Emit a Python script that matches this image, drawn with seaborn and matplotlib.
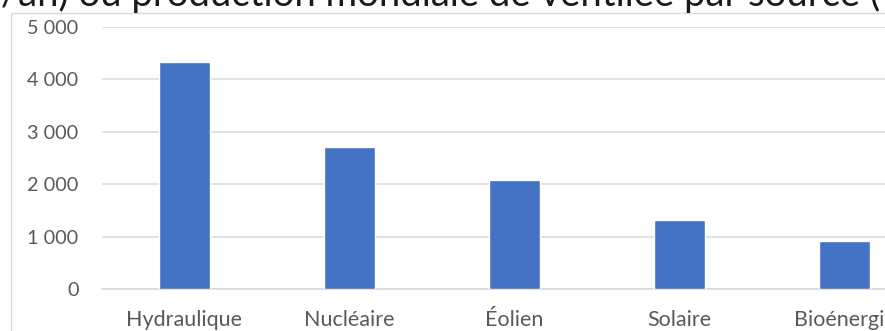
import matplotlib
matplotlib.use("Agg")
import matplotlib.pyplot as plt
from matplotlib.patches import Rectangle
from matplotlib.ticker import FuncFormatter, MultipleLocator
import seaborn as sns
import pandas as pd

# Production d'électricité mondiale par source (TWh)
sources = ["Hydraulique", "Nucléaire", "Éolien", "Solaire", "Bioénergie"]
production_twh = [4330, 2710, 2080, 1320, 920]
y_ticks = [0, 1000, 2000, 3000, 4000, 5000]

title = "(TWh/an) ou production mondiale de ventilée par source (TWh)"

df = pd.DataFrame({"source": sources, "twh": production_twh})

sns.set_theme(style="white")
plt.rcParams["font.family"] = ["Lato", "DejaVu Sans"]

W, H = 885, 331
fig = plt.figure(figsize=(W / 100, H / 100), dpi=100)
fig.patch.set_facecolor("white")

# Plot area; its right end runs past the edge of the canvas
left, right, top, bottom = 102, 927, 27, 289
ax = fig.add_axes([left / W, 1 - bottom / H, (right - left) / W, (bottom - top) / H])

sns.barplot(data=df, x="source", y="twh", color="#4472C4", saturation=1,
            width=0.315, ax=ax, zorder=3)

ax.set_xlim(-0.5, len(sources) - 0.5)
ax.set_ylim(y_ticks[0], y_ticks[-1])
ax.yaxis.set_major_locator(MultipleLocator(1000))
ax.yaxis.set_major_formatter(FuncFormatter(lambda v, p: f"{int(v):,}".replace(",", " ")))
ax.yaxis.grid(True, color="#D9D9D9", linewidth=1.1, zorder=0)
ax.set_axisbelow(True)

for side in ("top", "right", "left"):
    ax.spines[side].set_visible(False)
ax.spines["bottom"].set_color("#D9D9D9")
ax.spines["bottom"].set_linewidth(1.1)

ax.tick_params(axis="both", length=0, labelcolor="#595959")
ax.tick_params(axis="y", pad=17, labelsize=14.3)
ax.tick_params(axis="x", pad=15, labelsize=15.5)
ax.set_xlabel("")
ax.set_ylabel("")

# Chart frame
fig.patches.append(Rectangle((11 / W, -0.1), 1.2, 1 - 13 / H + 0.1,
                             transform=fig.transFigure, fill=False,
                             edgecolor="#D9D9D9", linewidth=1.0))

# Title, partly above the top edge
fig.text(-93 / W, 1 - 6 / H, title, fontsize=27.5, color="#1a1a1a",
         ha="left", va="baseline")

fig.savefig("out.png", dpi=100)
